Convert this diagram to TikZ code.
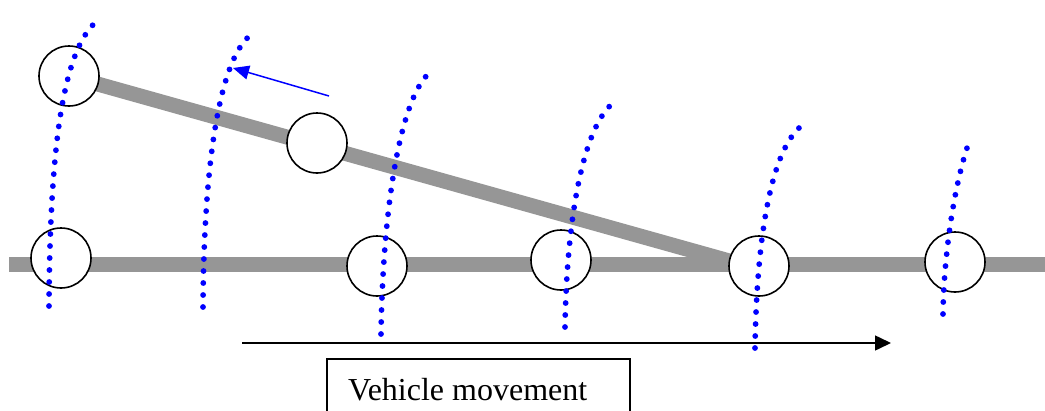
\documentclass[tikz,border=0pt]{standalone}
\usepackage{fontspec}
\setmainfont{Liberation Serif}
\usetikzlibrary{arrows.meta}
\definecolor{railgray}{RGB}{150,150,150}
\begin{document}
\begin{tikzpicture}[x=1pt,y=-1pt,
  rail/.style={draw=railgray, line width=15pt},
  wheel/.style={circle, draw=black, fill=white, line width=1.6pt, minimum size=60pt, inner sep=0pt},
  dotline/.style={draw=blue, line width=5.8pt, line cap=round, dash pattern=on 0pt off 12pt},
  bluearrow/.style={draw=blue, line width=1.5pt, -{Triangle[length=16pt,width=14pt]}},
  movearrow/.style={draw=black, line width=1.5pt, -{Triangle[length=16pt,width=15pt]}},
  labelbox/.style={draw=black, line width=1.5pt},
  labeltext/.style={font=\fontsize{32}{38}\selectfont, inner sep=0pt, anchor=base west}]
\useasboundingbox (0,0) rectangle (1045,410);
\clip (0,0) rectangle (1045,410);
% rails
\coordinate (railL) at (9,264);
\coordinate (railR) at (1050,264);
\coordinate (join) at (740,264);
\coordinate (topC) at (69,76);
\draw[rail] (railL) -- (railR);
\draw[rail] (topC) -- (join);
% wheels
\node[wheel] (w0) at (topC) {};
\node[wheel] (wm) at (317,143) {};
\node[wheel] (w1) at (61,258) {};
\node[wheel] (w2) at (377,266) {};
\node[wheel] (w3) at (561,260) {};
\node[wheel] (w4) at (759,266) {};
\node[wheel] (w5) at (955,262) {};
% dotted trajectories
\draw[dotline] (49,306) .. controls (50,120) and (68,40) .. (101,18);
\draw[dotline] (203,307) .. controls (204,150) and (222,50) .. (255,32);
\draw[dotline] (381,334) .. controls (383,200) and (402,90) .. (433,70);
\draw[dotline] (565,327) .. controls (567,210) and (585,120) .. (617,100);
\draw[dotline] (755,348) .. controls (757,224) and (774,140) .. (807,122);
\draw[dotline] (943,314) .. controls (944,250) and (955,185) .. (967,148);
% blue arrow
\coordinate (bS) at (329,96);
\coordinate (bE) at (233,68);
\draw[bluearrow] (bS) -- (bE);
% movement arrow
\coordinate (mS) at (242,343);
\coordinate (mE) at (891,343);
\draw[movearrow] (mS) -- (mE);
% label box
\coordinate (boxA) at (327,359);
\coordinate (boxB) at (630,430);
\draw[labelbox] (boxA) rectangle (boxB);
\node[labeltext] (lbl) at (348,400) {Vehicle movement};
\end{tikzpicture}
\end{document}
